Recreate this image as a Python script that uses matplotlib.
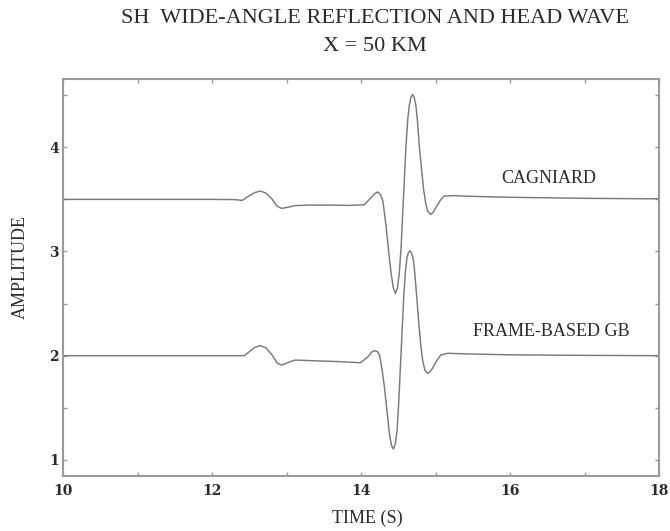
import matplotlib
matplotlib.use("Agg")
import matplotlib.pyplot as plt
from matplotlib.ticker import MultipleLocator

# trace samples (time in s, amplitude incl. offset)
time_cagniard = [10.0, 11.0, 12.0, 12.30, 12.40, 12.49, 12.57, 12.645, 12.72, 12.80,
                 12.87, 12.93, 13.02, 13.11, 13.30, 13.60, 13.82, 14.04, 14.13, 14.18,
                 14.22, 14.26, 14.29, 14.33, 14.37, 14.40, 14.43, 14.458, 14.485, 14.51,
                 14.535, 14.556, 14.58, 14.60, 14.625, 14.645, 14.667, 14.689, 14.71, 14.733,
                 14.755, 14.778, 14.81, 14.836, 14.865, 14.89, 14.933, 14.97, 15.0, 15.06,
                 15.112, 15.25, 15.42, 16.0, 17.0, 18.0]
amp_cagniard = [3.50, 3.50, 3.50, 3.498, 3.49, 3.532, 3.565, 3.58, 3.56, 3.505,
                3.435, 3.413, 3.425, 3.44, 3.445, 3.445, 3.442, 3.448, 3.516, 3.555,
                3.571, 3.545, 3.484, 3.26, 2.98, 2.79, 2.65, 2.596, 2.65, 2.79,
                3.05, 3.37, 3.72, 4.016, 4.28, 4.403, 4.48, 4.507, 4.48, 4.403,
                4.24, 4.016, 3.78, 3.597, 3.46, 3.387, 3.355, 3.38, 3.42, 3.49,
                3.532, 3.536, 3.53, 3.52, 3.51, 3.505]

time_gb = [10.0, 11.0, 12.0, 12.30, 12.43, 12.50, 12.57, 12.645, 12.72, 12.80,
           12.87, 12.93, 13.02, 13.11, 13.40, 13.70, 13.99, 14.09, 14.14, 14.178,
           14.215, 14.245, 14.28, 14.31, 14.345, 14.378, 14.405, 14.43, 14.455, 14.48,
           14.503, 14.525, 14.548, 14.57, 14.592, 14.613, 14.633, 14.653, 14.675, 14.698,
           14.72, 14.743, 14.77, 14.80, 14.825, 14.853, 14.89, 14.92, 14.956, 15.01,
           15.067, 15.156, 15.42, 16.0, 17.0, 18.0]
amp_gb = [2.0, 2.0, 2.0, 2.0, 2.0, 2.04, 2.08, 2.097, 2.075, 2.01,
          1.93, 1.91, 1.935, 1.958, 1.95, 1.943, 1.932, 1.99, 2.035, 2.048,
          2.04, 2.007, 1.86, 1.70, 1.47, 1.249, 1.14, 1.104, 1.15, 1.28,
          1.56, 1.894, 2.24, 2.571, 2.80, 2.943, 2.99, 3.007, 2.985, 2.926,
          2.78, 2.571, 2.33, 2.087, 1.95, 1.862, 1.829, 1.845, 1.878, 1.95,
          2.007, 2.023, 2.017, 2.008, 2.003, 2.0]

trace_labels = ["CAGNIARD", "FRAME-BASED GB"]
label_pos = [(16.52, 3.70), (16.55, 2.23)]

serif = "Liberation Serif"
line_col = "#7a7a7a"
frame_col = "#9a9a9a"
text_col = "#2b2b2b"

fig = plt.figure(figsize=(6.7, 5.31), dpi=100)
ax = fig.add_axes([0.0945, 0.1041, 0.8895, 0.7471])

ax.plot(time_cagniard, amp_cagniard, color=line_col, lw=1.05, solid_joinstyle="round")
ax.plot(time_gb, amp_gb, color=line_col, lw=1.05, solid_joinstyle="round")

for lab, (tx, ty) in zip(trace_labels, label_pos):
    ax.text(tx, ty, lab, ha="center", va="center", family=serif,
            fontsize=13, color=text_col)

ax.set_xlim(10, 18)
ax.set_ylim(0.848, 4.655)
ax.xaxis.set_major_locator(MultipleLocator(2))
ax.xaxis.set_minor_locator(MultipleLocator(1))
ax.yaxis.set_major_locator(MultipleLocator(1))
ax.yaxis.set_minor_locator(MultipleLocator(0.5))
ax.tick_params(which="both", direction="in", top=True, right=True,
               length=3, width=1, color=frame_col)
ax.tick_params(axis="x", which="major", pad=6)
ax.tick_params(axis="y", which="major", pad=3)
for lab in ax.get_xticklabels() + ax.get_yticklabels():
    lab.set_family("DejaVu Serif")
    lab.set_fontweight("bold")
    lab.set_fontsize(10)
    lab.set_color(text_col)
for sp in ax.spines.values():
    sp.set_color(frame_col)
    sp.set_linewidth(1.5)

ax.set_xlabel("TIME (S)", family=serif, fontsize=13, color=text_col, va="center")
ax.xaxis.set_label_coords(0.51, -0.107)
ax.set_ylabel("AMPLITUDE", family=serif, fontsize=13, color=text_col, va="center")
ax.yaxis.set_label_coords(-0.072, 0.527)

fig.text(0.56, 0.966, "SH  WIDE-ANGLE REFLECTION AND HEAD WAVE", ha="center",
         va="center", family=serif, fontsize=16, color=text_col)
fig.text(0.56, 0.913, "X = 50 KM", ha="center", va="center", family=serif,
         fontsize=16, color=text_col)

fig.savefig("out.png", dpi=100)
